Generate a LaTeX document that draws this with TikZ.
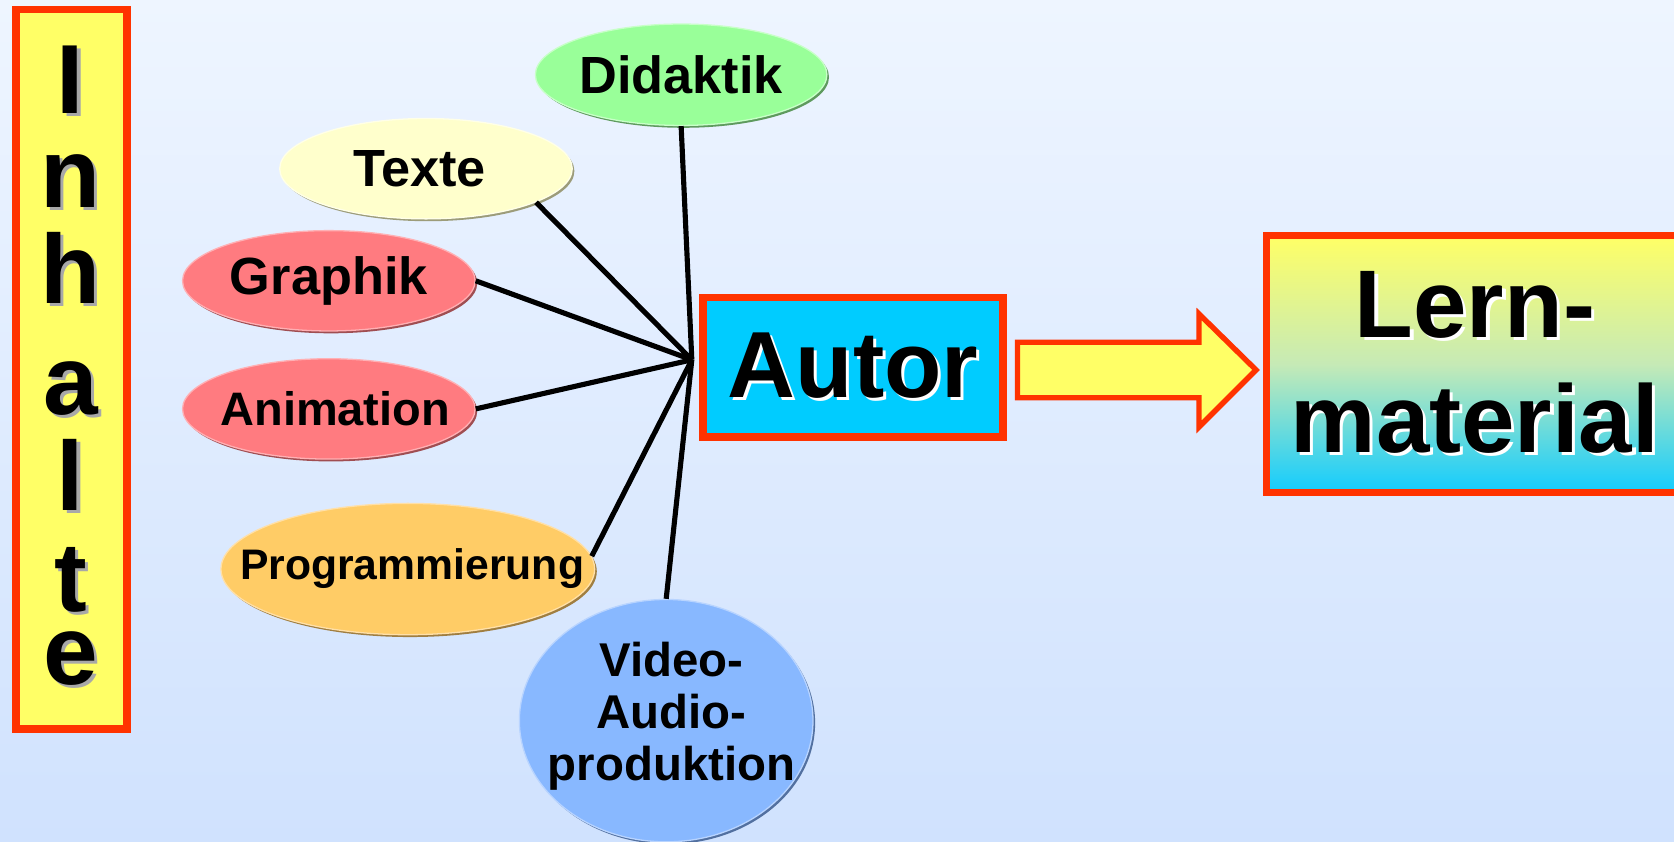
\documentclass[tikz,border=0pt]{standalone}
\usepackage{fontspec}
\setmainfont{Liberation Sans}
\usetikzlibrary{calc,shapes.geometric}
\definecolor{bgtop}{HTML}{EEF5FF}
\definecolor{bgbot}{HTML}{D0E2FE}
\definecolor{bred}{HTML}{FF3300}
\definecolor{byel}{HTML}{FFFF66}
\definecolor{bcyan}{HTML}{00CCFF}
\definecolor{lmid}{HTML}{C6EAB6}
\definecolor{lbot}{HTML}{12CCFF}
\definecolor{didf}{HTML}{99FF99}\definecolor{didr}{HTML}{5E9A5E}\definecolor{didh}{HTML}{C8FFC8}
\definecolor{texf}{HTML}{FFFFCC}\definecolor{texr}{HTML}{9C9C7A}\definecolor{texh}{HTML}{FFFFE8}
\definecolor{redf}{HTML}{FF7B80}\definecolor{redr}{HTML}{A04E52}\definecolor{redh}{HTML}{FFB0B4}
\definecolor{orf}{HTML}{FFCC66}\definecolor{orr}{HTML}{A07E40}\definecolor{orh}{HTML}{FFE0A8}
\definecolor{blf}{HTML}{88B8FF}\definecolor{blr}{HTML}{5270A0}\definecolor{blh}{HTML}{B8D4FF}
\definecolor{shgray}{HTML}{A8A8A8}
\newcommand\shd[2]{\makebox[0pt][l]{\hspace{1.5pt}\raisebox{-1.5pt}{\textcolor{#1}{#2}}}#2}
\tikzset{
  bubble/.style n args={3}{ellipse, inner sep=0pt, fill=#1, draw=#3, line width=0.6pt,
    preaction={fill=#2, transform canvas={xshift=1pt, yshift=-1.1pt}}},
  lbl/.style={font={\bfseries\fontsize{24.5}{28}\selectfont}, inner sep=0pt},
  conn/.style={draw=black, line width=2.4pt},
  redbox/.style={draw=bred, line width=3.5pt, inner sep=0pt},
  inhl/.style={font={\bfseries\fontsize{46}{50}\selectfont}, anchor=base, inner sep=0pt},
  big/.style={font={\bfseries\fontsize{44}{54}\selectfont}},
}
\begin{document}
\begin{tikzpicture}[x=0.5pt,y=-0.5pt]
\useasboundingbox (0,0) rectangle (1568,788);
\shade[top color=bgtop, bottom color=bgbot] (0,0) rectangle (1568,788);

% Inhalte column
\node[redbox, fill=byel, minimum width=52pt, minimum height=337pt] (inh) at (67,346) {};
\node[inhl] (i1) at (66,106) {\shd{shgray}{I}};
\node[inhl] (i2) at (66,194) {\shd{shgray}{n}};
\node[inhl] (i3) at (66,284) {\shd{shgray}{h}};
\node[inhl] (i4) at (66,388) {\shd{shgray}{a}};
\node[inhl] (i5) at (66,478) {\shd{shgray}{l}};
\node[inhl] (i6) at (66,573) {\shd{shgray}{t}};
\node[inhl] (i7) at (66,641) {\shd{shgray}{e}};

% bubbles
\node[bubble={didf}{didr}{didh}, minimum width=136.5pt, minimum height=47.5pt,
  label={[lbl]center:Didaktik}] (did) at (638,70) {};
\node[bubble={texf}{texr}{texh}, minimum width=137pt, minimum height=47pt,
  label={[lbl, xshift=-3pt]center:Texte}] (tex) at (399,158) {};
\node[bubble={redf}{redr}{redh}, minimum width=137pt, minimum height=47pt,
  label={[lbl]center:Graphik}] (gra) at (308,263) {};
\node[bubble={redf}{redr}{redh}, minimum width=137pt, minimum height=47pt,
  label={[lbl, font={\bfseries\fontsize{22}{26}\selectfont}, xshift=3pt]center:Animation}] (ani) at (308,383) {};
\node[bubble={orf}{orr}{orh}, minimum width=175pt, minimum height=61.5pt,
  label={[lbl, font={\bfseries\fontsize{20}{24}\selectfont}, xshift=2pt]center:Programmierung}] (prog) at (382,533) {};
\node[bubble={blf}{blr}{blh}, minimum width=137.5pt, minimum height=113.5pt,
  label={[lbl, font={\bfseries\fontsize{22.2}{24.5}\selectfont}, align=center, xshift=2.5pt, yshift=2pt]center:Video-\\Audio-\\produktion}] (vid) at (624,675) {};

% Autor
\node[redbox, fill=bcyan, minimum width=140.5pt, minimum height=65.5pt, big] (autor) at (799,344) {\shd{white}{Autor}};
\coordinate (hub) at ($(autor.west)+(-7,-7)$);

% connectors
\draw[conn] (hub) -- (did.south);
\draw[conn] (hub) -- (tex.-17);
\draw[conn] (hub) -- (gra.east);
\draw[conn] (hub) -- (ani.east);
\draw[conn] (hub) -- (prog.4);
\draw[conn] (hub) -- (vid.north);

% Lernmaterial
\node[redbox, top color=byel, bottom color=lbot, middle color=lmid, minimum width=195pt, minimum height=120.5pt,
  big, font={\bfseries\fontsize{45}{54}\selectfont}, align=center] (lern) at (1381.5,341)
  {\shd{white}{Lern-}\\\shd{white}{material}};

% block arrow
\draw[draw=bred, line width=2.5pt, fill=byel, line join=miter]
  ($(autor.east)+(10,-23.5)$) -- (1123,320.5) -- (1123,294) -- (1176.5,346.5)
  -- (1123,400) -- (1123,372.5) -- ($(autor.east)+(10,28.5)$) -- cycle;
\end{tikzpicture}
\end{document}
